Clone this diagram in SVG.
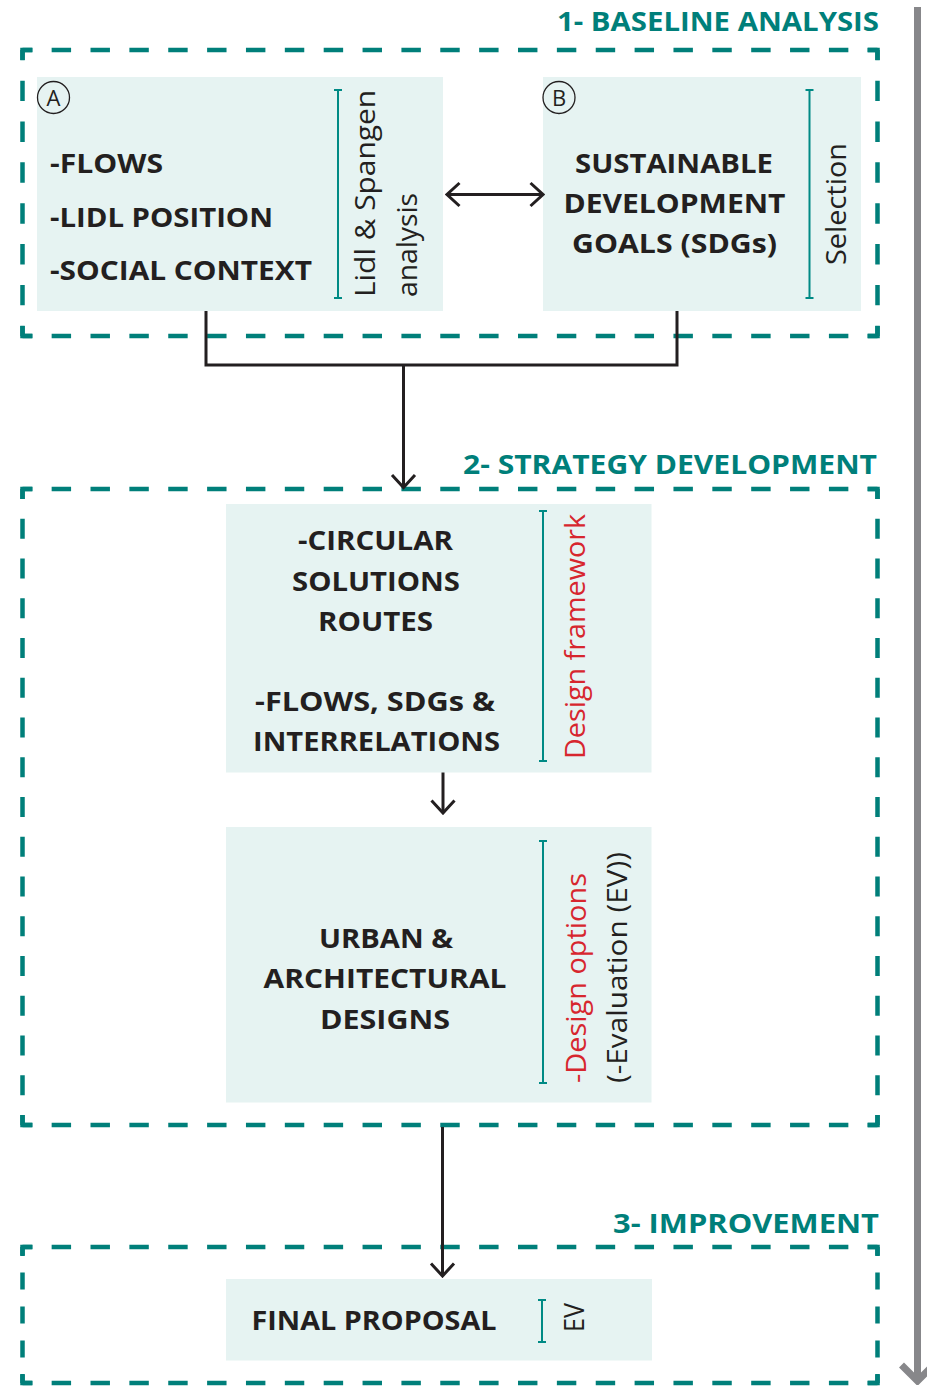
<svg xmlns="http://www.w3.org/2000/svg" width="927" height="1387" viewBox="0 0 927 1387">
<style>
.bg{fill:#ffffff}
.box{fill:#e6f3f2}
.dash{fill:none;stroke:#007f7a;stroke-width:4.5;stroke-dasharray:1 1;stroke-dashoffset:0.5;stroke-linecap:butt}
.corner{fill:none;stroke:#007f7a;stroke-width:4.5;stroke-linejoin:miter;stroke-linecap:butt}
.title{font-family:"Open Sans","Liberation Sans",sans-serif;font-weight:bold;font-size:27px;fill:#007f7a;text-anchor:end}
.bt{font-family:"Open Sans","Liberation Sans",sans-serif;font-weight:bold;font-size:27px;fill:#231f20}
.ctr{text-anchor:middle}
.rt{font-family:"Open Sans","Liberation Sans",sans-serif;font-size:28px;fill:#231f20}
.red{fill:#d7262e}
.brk{fill:none;stroke:#008a85;stroke-width:2}
.conn{fill:none;stroke:#231f20;stroke-width:3}
.circ{fill:none;stroke:#231f20;stroke-width:1.3}
.lt{font-family:"Open Sans","Liberation Sans",sans-serif;font-size:22px;fill:#231f20;text-anchor:middle}
</style>
<defs>
<marker id="chev" viewBox="-16 -14 18 28" refX="0" refY="0" markerWidth="18" markerHeight="28" markerUnits="userSpaceOnUse" orient="auto-start-reverse">
<path d="M-12.5,-11.5 L0,0 L-12.5,11.5" fill="none" stroke="#231f20" stroke-width="3"/>
</marker>
<marker id="gchev" viewBox="-22 -22 26 44" refX="0" refY="0" markerWidth="26" markerHeight="44" markerUnits="userSpaceOnUse" orient="auto">
<path d="M-16,-16 L0,0 L-16,16" fill="none" stroke="#87878a" stroke-width="7"/>
</marker>
</defs>
<rect class="bg" x="0" y="0" width="927" height="1387"/>

<!-- progress arrow -->
<g id="progress">
<line x1="917.5" y1="7" x2="917.5" y2="1381" stroke="#87878a" stroke-width="7" marker-end="url(#gchev)"/>
</g>

<!-- Phase 1 frame -->
<g id="phase1">
<path class="dash" d="M22.5,50 H877.5" pathLength="44"/>
<path class="dash" d="M22.5,336 H877.5" pathLength="44"/>
<path class="dash" d="M22.5,50 V336" pathLength="14"/>
<path class="dash" d="M877.5,50 V336" pathLength="14"/>
<path class="corner" d="M32.5,50 H22.5 V60"/>
<path class="corner" d="M867.5,50 H877.5 V60"/>
<path class="corner" d="M32.5,336 H22.5 V326"/>
<path class="corner" d="M867.5,336 H877.5 V326"/>
<text class="title" x="879" y="31" textLength="322" lengthAdjust="spacingAndGlyphs">1- BASELINE ANALYSIS</text>
</g>

<g id="nodeA">
<rect class="box" x="37" y="77" width="406" height="234"/>
<circle class="circ" cx="53.5" cy="97.5" r="16"/>
<text class="lt" x="53.5" y="105.5">A</text>
<text class="bt" x="50" y="173" font-size="28" textLength="113" lengthAdjust="spacingAndGlyphs">-FLOWS</text>
<text class="bt" x="50" y="227" font-size="28" textLength="223" lengthAdjust="spacingAndGlyphs">-LIDL POSITION</text>
<text class="bt" x="50" y="280" font-size="28" textLength="262" lengthAdjust="spacingAndGlyphs">-SOCIAL CONTEXT</text>
<path class="brk" d="M338,90 V298 M334,90 H342 M334,298 H342"/>
<text class="rt" transform="translate(375,297) rotate(-90)" textLength="207" lengthAdjust="spacingAndGlyphs">Lidl &amp; Spangen</text>
<text class="rt" transform="translate(417,297) rotate(-90)" textLength="104" lengthAdjust="spacingAndGlyphs">analysis</text>
</g>

<g id="nodeB">
<rect class="box" x="543" y="77" width="318" height="234"/>
<circle class="circ" cx="559" cy="97.5" r="16"/>
<text class="lt" x="559" y="105.5">B</text>
<text class="bt ctr" x="674" y="173" textLength="198" lengthAdjust="spacingAndGlyphs">SUSTAINABLE</text>
<text class="bt ctr" x="674.5" y="213" textLength="222" lengthAdjust="spacingAndGlyphs">DEVELOPMENT</text>
<text class="bt ctr" x="674.5" y="253" textLength="205" lengthAdjust="spacingAndGlyphs">GOALS (SDGs)</text>
<path class="brk" d="M809.5,90 V298 M805.5,90 H813.5 M805.5,298 H813.5"/>
<text class="rt" transform="translate(846,265) rotate(-90)" textLength="122" lengthAdjust="spacingAndGlyphs">Selection</text>
</g>

<!-- Phase 2 frame -->
<g id="phase2">
<path class="dash" d="M22.5,489 H877.5" pathLength="44"/>
<path class="dash" d="M22.5,1125 H877.5" pathLength="44"/>
<path class="dash" d="M22.5,489 V1125" pathLength="32"/>
<path class="dash" d="M877.5,489 V1125" pathLength="32"/>
<path class="corner" d="M32.5,489 H22.5 V499"/>
<path class="corner" d="M867.5,489 H877.5 V499"/>
<path class="corner" d="M32.5,1125 H22.5 V1115"/>
<path class="corner" d="M867.5,1125 H877.5 V1115"/>
<text class="title" x="877" y="473.5" textLength="414" lengthAdjust="spacingAndGlyphs">2- STRATEGY DEVELOPMENT</text>
</g>

<g id="nodeCircular">
<rect class="box" x="226" y="504" width="425.5" height="268.5"/>
<text class="bt ctr" x="375.5" y="550" textLength="155" lengthAdjust="spacingAndGlyphs">-CIRCULAR</text>
<text class="bt ctr" x="376" y="590.5" textLength="168" lengthAdjust="spacingAndGlyphs">SOLUTIONS</text>
<text class="bt ctr" x="375.5" y="630.5" textLength="115" lengthAdjust="spacingAndGlyphs">ROUTES</text>
<text class="bt ctr" x="375" y="710.5" textLength="240" lengthAdjust="spacingAndGlyphs">-FLOWS, SDGs &amp;</text>
<text class="bt ctr" x="376.5" y="750.5" textLength="247" lengthAdjust="spacingAndGlyphs">INTERRELATIONS</text>
<path class="brk" d="M543,511 V761 M539,511 H547 M539,761 H547"/>
<text class="rt red" transform="translate(585,759) rotate(-90)" textLength="245" lengthAdjust="spacingAndGlyphs">Design framework</text>
</g>

<g id="nodeUrban">
<rect class="box" x="226" y="827" width="425.5" height="275.5"/>
<text class="bt ctr" x="386" y="948" textLength="134" lengthAdjust="spacingAndGlyphs">URBAN &amp;</text>
<text class="bt ctr" x="385" y="988" textLength="243" lengthAdjust="spacingAndGlyphs">ARCHITECTURAL</text>
<text class="bt ctr" x="385" y="1028.5" textLength="130" lengthAdjust="spacingAndGlyphs">DESIGNS</text>
<path class="brk" d="M543,841 V1083 M539,841 H547 M539,1083 H547"/>
<text class="rt red" transform="translate(586,1083) rotate(-90)" textLength="210" lengthAdjust="spacingAndGlyphs">-Design options</text>
<text class="rt" transform="translate(626.5,1083) rotate(-90)" textLength="231" lengthAdjust="spacingAndGlyphs">(-Evaluation (EV))</text>
</g>

<!-- Phase 3 frame -->
<g id="phase3">
<path class="dash" d="M22.5,1247 H877.5" pathLength="44"/>
<path class="dash" d="M22.5,1383 H877.5" pathLength="44"/>
<path class="dash" d="M22.5,1247 V1383" pathLength="8"/>
<path class="dash" d="M877.5,1247 V1383" pathLength="8"/>
<path class="corner" d="M32.5,1247 H22.5 V1256"/>
<path class="corner" d="M867.5,1247 H877.5 V1256"/>
<path class="corner" d="M32.5,1383 H22.5 V1374"/>
<path class="corner" d="M867.5,1383 H877.5 V1374"/>
<text class="title" x="879" y="1233" textLength="266" lengthAdjust="spacingAndGlyphs">3- IMPROVEMENT</text>
</g>

<g id="nodeFinal">
<rect class="box" x="226" y="1279" width="426" height="81.5"/>
<text class="bt" x="251.5" y="1329.5" textLength="245" lengthAdjust="spacingAndGlyphs">FINAL PROPOSAL</text>
<path class="brk" d="M542,1300 V1342 M538,1300 H546 M538,1342 H546"/>
<text class="rt" transform="translate(583.5,1332) rotate(-90)" textLength="29" lengthAdjust="spacingAndGlyphs">EV</text>
</g>

<g id="connectors">
<line class="conn" x1="447" y1="194.5" x2="543" y2="194.5" marker-start="url(#chev)" marker-end="url(#chev)"/>
<polyline class="conn" points="206,311 206,365 677,365 677,311"/>
<line class="conn" x1="403.5" y1="365" x2="403.5" y2="487.5" marker-end="url(#chev)"/>
<line class="conn" x1="443" y1="772.5" x2="443" y2="813" marker-end="url(#chev)"/>
<line class="conn" x1="442.5" y1="1127" x2="442.5" y2="1276" marker-end="url(#chev)"/>
</g>
</svg>
